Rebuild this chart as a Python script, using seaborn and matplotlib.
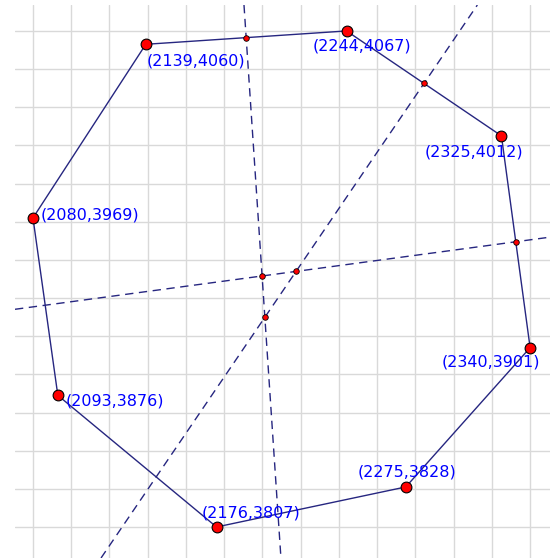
import numpy as np
import pandas as pd
import matplotlib
matplotlib.use("Agg")
import matplotlib.pyplot as plt
import seaborn as sns

# Polygon vertices (in drawing order)
xs = [2080, 2139, 2244, 2325, 2340, 2275, 2176, 2093]
ys = [3969, 4060, 4067, 4012, 3901, 3828, 3807, 3876]

# edges whose perpendicular bisectors are drawn (vertex index pairs)
bisector_edges = [(1, 2), (2, 3), (3, 4)]

# label offsets in pixels (dx, dy)
label_offsets = [(8, 3), (1, -17), (-34, -15), (-77, -16),
                 (-88, -14), (-48, 15), (-15, 14), (8, -6)]

line_col = "#262680"

sns.set_theme(style="white")
plt.rcParams["font.family"] = ["DejaVu Sans"]

fig = plt.figure(figsize=(5.5, 5.58), dpi=100)
ax = fig.add_axes([15 / 550, 0, 535 / 550, 553 / 558])

# grid
for gx in range(2080, 2341, 20):
    ax.axvline(gx, color="#d9d9d9", lw=1, zorder=0)
for gy in range(3807, 4068, 20):
    ax.axhline(gy, color="#d9d9d9", lw=1, zorder=0)

# polygon outline
poly = pd.DataFrame({"x": xs + [xs[0]], "y": ys + [ys[0]]})
sns.lineplot(data=poly, x="x", y="y", sort=False, estimator=None,
             color=line_col, lw=1, ax=ax, zorder=2)

# perpendicular bisectors
mids, dirs = [], []
for i, j in bisector_edges:
    p = np.array([xs[i], ys[i]], float)
    q = np.array([xs[j], ys[j]], float)
    m = (p + q) / 2
    d = np.array([-(q[1] - p[1]), q[0] - p[0]])
    mids.append(m)
    dirs.append(d)
    ax.axline(m, m + d, color=line_col, lw=1, ls=(0, (6, 4)), zorder=2)

# intersections of bisectors
inters = []
for a in range(3):
    for b in range(a + 1, 3):
        A = np.column_stack([dirs[a], -dirs[b]])
        t = np.linalg.solve(A, mids[b] - mids[a])
        inters.append(mids[a] + t[0] * dirs[a])

small = pd.DataFrame(np.array(mids + inters), columns=["x", "y"])
sns.scatterplot(data=small, x="x", y="y", color="red", edgecolor="black",
                linewidth=0.6, s=16, ax=ax, zorder=4)

pts = pd.DataFrame({"x": xs, "y": ys})
sns.scatterplot(data=pts, x="x", y="y", color="red", edgecolor="black",
                linewidth=0.8, s=60, ax=ax, zorder=5)

for x, y, (dx, dy) in zip(xs, ys, label_offsets):
    ax.annotate(f"({x},{y})", (x, y), xytext=(dx, dy),
                textcoords="offset pixels", color="blue", fontsize=11.5,
                ha="left", va="center", zorder=6)

ax.set_xlim(2070.6, 2350.4)
ax.set_ylim(3790.75, 4080.6)
ax.set_xticks([])
ax.set_yticks([])
ax.set_xlabel("")
ax.set_ylabel("")
for s in ax.spines.values():
    s.set_visible(False)

fig.savefig("out.png", dpi=100)
